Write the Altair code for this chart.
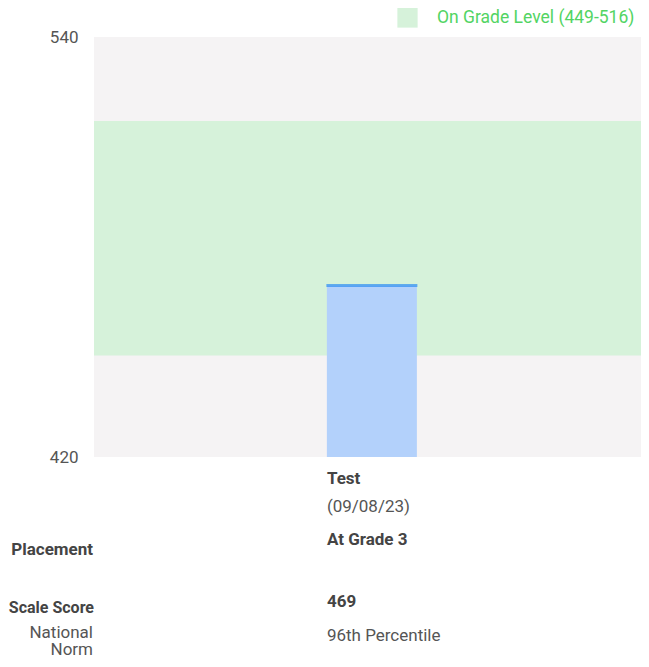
import altair as alt
import pandas as pd

# ---- data ----
tests = ["Test"]
dates = ["(09/08/23)"]
placements = ["At Grade 3"]
scores = [469]
percentiles = ["96th Percentile"]
band_name = ["On Grade Level"]
band_low = [449]
band_high = [516]
y_domain = [420, 540]
row_labels = ["Placement", "Scale Score", "National\nNorm"]

df = pd.DataFrame({
    "test": tests, "date": dates, "placement": placements,
    "score": scores, "percentile": percentiles,
})
band = pd.DataFrame({
    "lo": band_low, "hi": band_high,
    "label": [f"{n} ({a}-{b})" for n, a, b in zip(band_name, band_low, band_high)],
})

W, H = 547, 420
FONT = "Roboto"
FS = 17

yscale = alt.Scale(domain=y_domain, nice=False, zero=False)
yaxis = alt.Axis(values=y_domain, grid=False, ticks=False, domain=False,
                 labelFontSize=FS, labelColor="#555555", labelFont=FONT,
                 labelPadding=16, labelFlush=False, labelOverlap=False)
xenc = alt.X("test:N", axis=None,
             scale=alt.Scale(paddingInner=0, paddingOuter=1, align=0.512))

band_layer = alt.Chart(band).mark_rect().encode(
    x=alt.value(0), x2=alt.value(W),
    y=alt.Y("hi:Q", scale=yscale, axis=yaxis, title=None),
    y2="lo:Q",
    color=alt.Color("label:N", scale=alt.Scale(range=["#d6f2da"]),
                    legend=alt.Legend(orient="none", legendX=303, legendY=-30,
                                      title=None, symbolType="square",
                                      symbolSize=410, symbolStrokeWidth=0,
                                      labelFontSize=17.5, labelFont=FONT,
                                      labelColor="#52d463", labelOffset=19,
                                      labelLimit=400, padding=0)),
)

bar = alt.Chart(df).mark_bar(size=90, color="#b3d1fb").encode(
    x=xenc,
    y=alt.Y("score:Q", scale=yscale, axis=yaxis, title=None),
    y2=alt.datum(y_domain[0]),
)

tick = alt.Chart(df).mark_tick(color="#2f8ef2", thickness=3, size=91).encode(
    x=xenc,
    y=alt.Y("score:Q", scale=yscale),
)

def col_text(field, ypix, bold):
    return alt.Chart(df).mark_text(
        align="left", dx=-45, baseline="alphabetic", font=FONT, fontSize=FS,
        fontWeight="bold" if bold else "normal",
        color="#444444" if bold else "#555555",
    ).encode(x=xenc, y=alt.value(ypix), text=alt.Text(field))

def row_text(label, ypix, bold, size=FS, xpix=-1):
    return alt.Chart(df).mark_text(
        align="right", baseline="alphabetic", font=FONT, fontSize=size,
        fontWeight="bold" if bold else "normal", lineBreak="\n", lineHeight=17,
        color="#444444" if bold else "#555555",
    ).encode(x=alt.value(xpix), y=alt.value(ypix), text=alt.value(label))

texts = [
    col_text("test:N", 447, True),
    col_text("date:N", 475, False),
    col_text("placement:N", 508, True),
    col_text("score:Q", 570, True),
    col_text("percentile:N", 604, False),
    row_text(row_labels[0], 518, True),
    row_text(row_labels[1], 576, True, size=16, xpix=0),
    row_text(row_labels[2], 601, False),
]

chart = alt.layer(band_layer, bar, tick, *texts).properties(
    width=W, height=H,
    autosize=alt.AutoSizeParams(type="none"),
    padding={"left": 86, "top": 29, "right": 0, "bottom": 202},
).configure_view(fill="#f5f3f4", stroke=None)

chart.save("out.html", embed_options={"renderer": "svg", "actions": False})
